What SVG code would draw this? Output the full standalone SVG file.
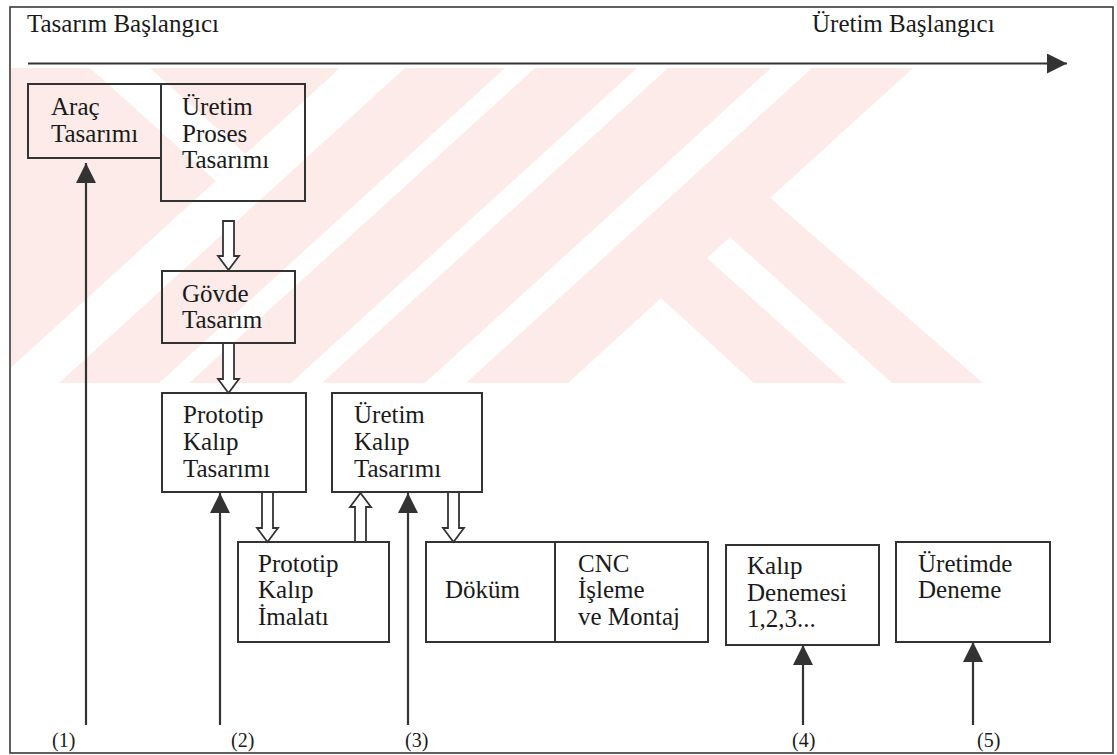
<svg xmlns="http://www.w3.org/2000/svg" width="1117" height="755" viewBox="0 0 1117 755">
  <defs>
    <style>
      .frame { fill: none; stroke: #3a3a3a; stroke-width: 1.6; }
      .box { fill: none; stroke: #333; stroke-width: 2; }
      .txt { font-family: "Liberation Serif", "Times New Roman", serif; font-size: 25px; fill: #1a1a1a; }
      .lbl { font-family: "Liberation Serif", "Times New Roman", serif; font-size: 20px; fill: #1a1a1a; }
      .line { stroke: #333; stroke-width: 2.2; fill: none; }
      .hollow { fill: #fff; stroke: #333; stroke-width: 1.8; stroke-linejoin: miter; }
      .wm { fill: #fcebe8; }
      .gap { fill: #fff; }
    </style>
    <marker id="solid" viewBox="0 0 20 20" refX="20" refY="10" markerWidth="20" markerHeight="20" markerUnits="userSpaceOnUse" orient="auto">
      <path d="M0,0 L20,10 L0,20 Z" fill="#333"/>
    </marker>
    <clipPath id="wmclip">
      <rect x="11" y="68" width="1000" height="315"/>
    </clipPath>
  </defs>

  <rect width="1117" height="755" fill="#fff"/>

  <!-- background emblem: pale diagonal bands -->
  <g id="emblem" clip-path="url(#wmclip)">
    <path class="wm" d="M11,68 L913,68 L770,198 L983,383 L11,383 Z"/>
    <!-- chevron gap on the left -->
    <path class="gap" d="M90,68 L150,68 L245.5,154 L340,68 L405,68 L59,383 L-6,383 L215.7,181 Z"/>
    <!-- slanted gaps -->
    <path class="gap" d="M505,68 L535,68 L189,383 L159,383 Z"/>
    <path class="gap" d="M637,68 L668,68 L322,383 L291,383 Z"/>
    <path class="gap" d="M771,68 L812,68 L466,383 L425,383 Z"/>
    <!-- leg gaps -->
    <path class="gap" d="M661,298 L754,383 L568,383 Z"/>
    <path class="gap" d="M707,258 L730,237 L892,383 L846,383 Z"/>
  </g>

  <!-- outer frame -->
  <rect class="frame" x="10" y="7" width="1103" height="746"/>

  <!-- timeline -->
  <g id="timeline">
    <text class="txt" x="27" y="32">Tasarım Başlangıcı</text>
    <text class="txt" x="812" y="32">Üretim Başlangıcı</text>
    <line class="line" x1="28" y1="63.5" x2="1067" y2="63.5" marker-end="url(#solid)"/>
  </g>

  <g id="arac">
    <rect class="box" x="28" y="84" width="133" height="74"/>
    <text class="txt" x="51" y="115">Araç</text>
    <text class="txt" x="51" y="142">Tasarımı</text>
  </g>

  <g id="proses">
    <rect class="box" x="161" y="84" width="144" height="117"/>
    <text class="txt" x="182" y="115">Üretim</text>
    <text class="txt" x="182" y="142">Proses</text>
    <text class="txt" x="182" y="168">Tasarımı</text>
  </g>

  <g id="govde">
    <rect class="box" x="162" y="271" width="133" height="72"/>
    <text class="txt" x="182" y="302">Gövde</text>
    <text class="txt" x="182" y="328">Tasarım</text>
  </g>

  <g id="prototip-tasarim">
    <rect class="box" x="162" y="393" width="144" height="99"/>
    <text class="txt" x="183" y="423">Prototip</text>
    <text class="txt" x="183" y="450">Kalıp</text>
    <text class="txt" x="183" y="477">Tasarımı</text>
  </g>

  <g id="uretim-kalip">
    <rect class="box" x="332" y="393" width="150" height="99"/>
    <text class="txt" x="354" y="423">Üretim</text>
    <text class="txt" x="354" y="450">Kalıp</text>
    <text class="txt" x="354" y="477">Tasarımı</text>
  </g>

  <g id="prototip-imalat">
    <rect class="box" x="238" y="542" width="151" height="100"/>
    <text class="txt" x="258" y="572">Prototip</text>
    <text class="txt" x="258" y="598">Kalıp</text>
    <text class="txt" x="258" y="625">İmalatı</text>
  </g>

  <g id="dokum">
    <rect class="box" x="426" y="542" width="129" height="100"/>
    <text class="txt" x="445" y="598">Döküm</text>
  </g>

  <g id="cnc">
    <rect class="box" x="555" y="542" width="153" height="100"/>
    <text class="txt" x="578" y="572">CNC</text>
    <text class="txt" x="578" y="598">İşleme</text>
    <text class="txt" x="578" y="625">ve Montaj</text>
  </g>

  <g id="kalip-deneme">
    <rect class="box" x="726" y="545" width="153" height="100"/>
    <text class="txt" x="747" y="574">Kalıp</text>
    <text class="txt" x="747" y="601">Denemesi</text>
    <text class="txt" x="747" y="627">1,2,3...</text>
  </g>

  <g id="uretimde-deneme">
    <rect class="box" x="896" y="542" width="154" height="100"/>
    <text class="txt" x="918" y="572">Üretimde</text>
    <text class="txt" x="918" y="598">Deneme</text>
  </g>

  <g id="connectors">
    <!-- hollow block arrows between design steps -->
    <path class="hollow" d="M223,221 L234,221 L234,256 L239,256 L228.5,270 L218,256 L223,256 Z"/>
    <path class="hollow" d="M223,343 L234,343 L234,379 L239,379 L228.5,393 L218,379 L223,379 Z"/>
    <path class="hollow" d="M262,492 L273,492 L273,528 L278,528 L267.5,542 L257,528 L262,528 Z"/>
    <path class="hollow" d="M355,542 L366,542 L366,507 L371,507 L360.5,493 L350,507 L355,507 Z"/>
    <path class="hollow" d="M448,492 L459,492 L459,528 L464,528 L453.5,542 L443,528 L448,528 Z"/>
    <!-- milestone arrows -->
    <line class="line" x1="86" y1="725" x2="86" y2="163" marker-end="url(#solid)"/>
    <line class="line" x1="220" y1="725" x2="220" y2="493" marker-end="url(#solid)"/>
    <line class="line" x1="408" y1="725" x2="408" y2="493" marker-end="url(#solid)"/>
    <line class="line" x1="803" y1="725" x2="803" y2="645" marker-end="url(#solid)"/>
    <line class="line" x1="973" y1="725" x2="973" y2="642" marker-end="url(#solid)"/>
  </g>

  <g id="labels">
    <text class="lbl" x="52" y="747">(1)</text>
    <text class="lbl" x="231" y="747">(2)</text>
    <text class="lbl" x="405" y="747">(3)</text>
    <text class="lbl" x="792" y="747">(4)</text>
    <text class="lbl" x="977" y="747">(5)</text>
  </g>
</svg>
